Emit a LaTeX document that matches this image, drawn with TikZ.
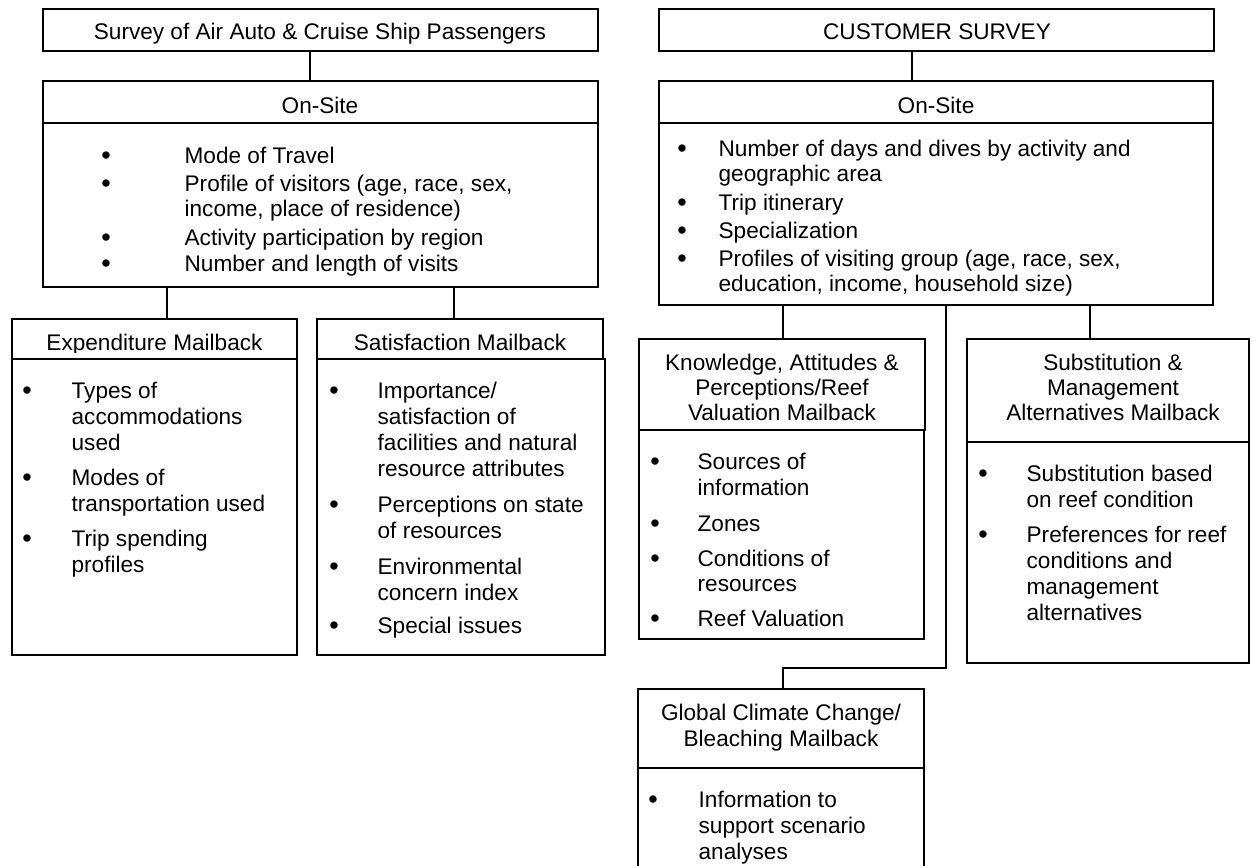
\documentclass[tikz,border=0pt]{standalone}
\usepackage{fontspec}
\setmainfont{Liberation Sans}
\newcommand{\stk}[1]{\begin{tabular}[t]{@{}l@{}}#1\end{tabular}}
\newcommand{\stkc}[1]{\begin{tabular}[t]{@{}c@{}}#1\end{tabular}}
\begin{document}
\begin{tikzpicture}[x=1pt, y=-1pt, line width=1.3pt,
  box/.style 2 args={draw, rectangle, inner sep=0pt, outer sep=0pt, anchor=north west, minimum width=#1, minimum height=#2},
  txtA/.style={inner sep=0pt, font=\fontsize{22.6}{25.4}\selectfont},
  txtB/.style={inner sep=0pt, font=\fontsize{22.6}{26.2}\selectfont},
  hd/.style={txtA, anchor=base},
  hdB/.style={txtB, anchor=base},
  itA/.style={txtA, anchor=base west},
  itB/.style={txtB, anchor=base west},
  bul/.style={inner sep=0pt, font=\fontsize{27}{30}\selectfont, anchor=base, yshift=-1.5pt}]
\fill[white] (0,0) rectangle (1257,865);
\useasboundingbox (0,0) rectangle (1257,865);

% ---------------- left branch ----------------
\node[box={555pt}{42pt}] (T1) at (43,9) {};
\node[hd] (T1t) at (320,39) {Survey of Air Auto \& Cruise Ship Passengers};
\node[box={555pt}{42pt}] (O1h) at (43,81) {};
\node[hd] (O1t) at (320,113) {On-Site};
\node[box={555pt}{164pt}] (O1b) at (43,123) {};
\node[bul] (O1b1) at (106,163) {\textbullet};
\node[itA] (O1i1) at (184,163) {Mode of Travel};
\node[bul] (O1b2) at (106,191) {\textbullet};
\node[itA] (O1i2) at (184,191) {\stk{Profile of visitors (age, race, sex,\\income, place of residence)}};
\node[bul] (O1b3) at (106,245) {\textbullet};
\node[itA] (O1i3) at (184,245) {Activity participation by region};
\node[bul] (O1b4) at (106,271) {\textbullet};
\node[itA] (O1i4) at (184,271) {Number and length of visits};

\node[box={285pt}{40pt}] (Eh) at (12,319) {};
\begin{scope}
\clip (12,319) rectangle (297,352);
\node[hd] (Et) at (154.5,350.5) {Expenditure Mailback};
\end{scope}
\node[box={285pt}{296pt}] (Eb) at (12,359) {};
\node[bul] (Eb1) at (27,398) {\textbullet};
\node[itB] (Ei1) at (71,398) {\stk{Types of\\accommodations\\used}};
\node[bul] (Eb2) at (27,485) {\textbullet};
\node[itB] (Ei2) at (71,485) {\stk{Modes of\\transportation used}};
\node[bul] (Eb3) at (27,546) {\textbullet};
\node[itB] (Ei3) at (71,546) {\stk{Trip spending\\profiles}};

\node[box={286pt}{40pt}] (Sh) at (317,319) {};
\node[hd] (St) at (460,350.5) {Satisfaction Mailback};
\node[box={288pt}{296pt}] (Sb) at (317,359) {};
\node[bul] (Sb1) at (334,398) {\textbullet};
\node[itB] (Si1) at (377,398) {\stk{Importance/\\satisfaction of\\facilities and natural\\resource attributes}};
\node[bul] (Sb2) at (334,512) {\textbullet};
\node[itB] (Si2) at (377,512) {\stk{Perceptions on state\\of resources}};
\node[bul] (Sb3) at (334,574) {\textbullet};
\node[itB] (Si3) at (377,574) {\stk{Environmental\\concern index}};
\node[bul] (Sb4) at (334,633) {\textbullet};
\node[itB] (Si4) at (377,633) {Special issues};

% ---------------- right branch ----------------
\node[box={555pt}{42pt}] (T2) at (659,9) {};
\node[hd] (T2t) at (937,39) {CUSTOMER SURVEY};
\node[box={554pt}{42pt}] (O2h) at (659,81) {};
\node[hd] (O2t) at (936,113) {On-Site};
\node[box={554pt}{182pt}] (O2b) at (659,123) {};
\node[bul] (O2b1) at (682,156) {\textbullet};
\node[itA] (O2i1) at (718,156) {\stk{Number of days and dives by activity and\\geographic area}};
\node[bul] (O2b2) at (682,210) {\textbullet};
\node[itA] (O2i2) at (718,210) {Trip itinerary};
\node[bul] (O2b3) at (682,238) {\textbullet};
\node[itA] (O2i3) at (718,238) {Specialization};
\node[bul] (O2b4) at (682,266) {\textbullet};
\node[itA] (O2i4) at (718,266) {\stk{Profiles of visiting group (age, race, sex,\\education, income, household size)}};

\node[box={286pt}{91pt}] (Kh) at (639,339) {};
\node[hd] (Kt) at (782,370) {\stkc{Knowledge, Attitudes \&\\Perceptions/Reef\\Valuation Mailback}};
\node[box={285pt}{209pt}] (Kb) at (639,430) {};
\node[bul] (Kb1) at (655,469) {\textbullet};
\node[itB] (Ki1) at (697,469) {\stk{Sources of\\information}};
\node[bul] (Kb2) at (655,531) {\textbullet};
\node[itB] (Ki2) at (697,531) {Zones};
\node[bul] (Kb3) at (655,566) {\textbullet};
\node[itA] (Ki3) at (697,566) {\stk{Conditions of\\resources}};
\node[bul] (Kb4) at (655,626) {\textbullet};
\node[itB] (Ki4) at (697,626) {Reef Valuation};

\node[box={282pt}{103pt}] (Uh) at (967,339) {};
\node[hd] (Ut) at (1113,370) {\stkc{Substitution \&\\Management\\Alternatives Mailback}};
\node[box={282pt}{221pt}] (Ub) at (967,442) {};
\node[bul] (Ub1) at (983,481) {\textbullet};
\node[itB] (Ui1) at (1026,481) {\stk{Substitution based\\on reef condition}};
\node[bul] (Ub2) at (983,542) {\textbullet};
\node[itB] (Ui2) at (1026,542) {\stk{Preferences for reef\\conditions and\\management\\alternatives}};

\node[box={286pt}{79pt}] (Gh) at (638,689) {};
\node[hdB] (Gt) at (781,720) {\stkc{Global Climate Change/\\Bleaching Mailback}};
\node[box={286pt}{104pt}] (Gb) at (638,768) {};
\node[bul] (Gb1) at (653,807) {\textbullet};
\node[itB] (Gi1) at (698,807) {\stk{Information to\\support scenario\\analyses}};

% ---------------- connectors ----------------
\coordinate (c1) at (167,0);
\coordinate (c2) at (454,0);
\coordinate (c3) at (783,0);
\coordinate (c4) at (1090,0);
\coordinate (bend) at (946,668);
\draw ([xshift=-10.5pt]T1.south) -- ([xshift=-10.5pt]O1h.north);
\draw ([xshift=-24.5pt]T2.south) -- ([xshift=-24.5pt]T2.south |- O2h.north);
\draw (O1b.south -| c1) -- (Eh.north -| c1);
\draw (O1b.south -| c2) -- (Sh.north -| c2);
\draw (O2b.south -| c3) -- (Kh.north -| c3);
\draw (O2b.south -| c4) -- (Uh.north -| c4);
\draw (O2b.south -| bend) -- (bend) -| (Gh.north -| c3);
\end{tikzpicture}
\end{document}
